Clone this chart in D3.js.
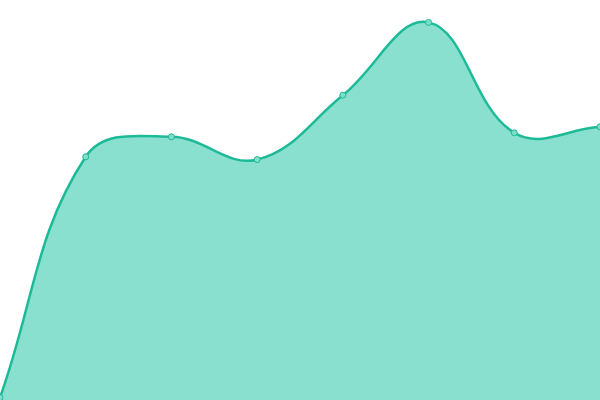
<!DOCTYPE html>
<html>
<head>
<meta charset="utf-8">
<script src="https://cdn.jsdelivr.net/npm/d3@7"></script>
<style>
  html, body { margin: 0; padding: 0; background: #fff; }
  svg { display: block; }
</style>
</head>
<body>
<svg id="chart" width="600" height="400"></svg>
<script>
const categories = ["1", "2", "3", "4", "5", "6", "7", "8"];
const values = [0.6, 60.8, 65.8, 60.1, 76.2, 94.4, 66.8, 68.3];

const width = 600;
const height = 400;
const tension = 0.4;

const x = d3.scalePoint().domain(categories).range([0, width]);
const y = d3.scaleLinear().domain([0, 100]).range([height, 0]);

const pts = categories.map((c, i) => [x(c), y(values[i])]);

// distance-weighted spline control points (prev/next clamp at the ends)
function controlPoints(points) {
  return points.map((cur, i) => {
    const prev = points[Math.max(0, i - 1)];
    const next = points[Math.min(points.length - 1, i + 1)];
    const d01 = Math.hypot(cur[0] - prev[0], cur[1] - prev[1]);
    const d12 = Math.hypot(next[0] - cur[0], next[1] - cur[1]);
    const s = d01 + d12 || 1;
    const fa = (tension * d01) / s;
    const fb = (tension * d12) / s;
    const clampX = (v) => Math.max(0, Math.min(width, v));
    const clampY = (v) => Math.max(0, Math.min(height, v));
    return {
      prev: [clampX(cur[0] - fa * (next[0] - prev[0])), clampY(cur[1] - fa * (next[1] - prev[1]))],
      next: [clampX(cur[0] + fb * (next[0] - prev[0])), clampY(cur[1] + fb * (next[1] - prev[1]))],
    };
  });
}

function splinePath(p, points) {
  const cps = controlPoints(points);
  p.moveTo(points[0][0], points[0][1]);
  for (let i = 1; i < points.length; i++) {
    const a = cps[i - 1].next;
    const b = cps[i].prev;
    p.bezierCurveTo(a[0], a[1], b[0], b[1], points[i][0], points[i][1]);
  }
  return p;
}

const linePath = splinePath(d3.path(), pts);
const areaPath = splinePath(d3.path(), pts);
areaPath.lineTo(pts[pts.length - 1][0], y(0));
areaPath.lineTo(pts[0][0], y(0));
areaPath.closePath();

const svg = d3.select("#chart");
svg.append("path").attr("fill", "#89e0cf").attr("d", areaPath.toString());
svg
  .append("path")
  .attr("fill", "none")
  .attr("stroke", "#1dba98")
  .attr("stroke-width", 2.5)
  .attr("d", linePath.toString());
svg
  .selectAll("circle")
  .data(pts)
  .join("circle")
  .attr("cx", (d) => d[0])
  .attr("cy", (d) => d[1])
  .attr("r", 3)
  .attr("fill", "#7fddc9")
  .attr("stroke", "#1dba98")
  .attr("stroke-width", 1);
</script>
</body>
</html>
